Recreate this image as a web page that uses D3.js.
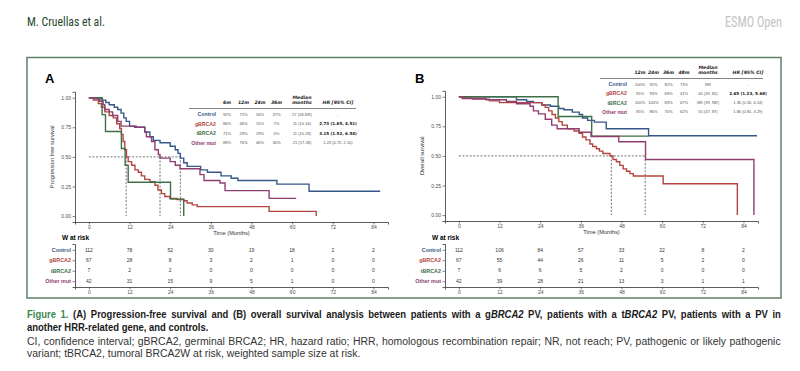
<!DOCTYPE html>
<html lang="en">
<head>
<meta charset="UTF-8">
<title>Figure 1 - survival by BRCA2 status</title>
<script src="https://cdn.jsdelivr.net/npm/d3@7"></script>
<style>
    body { margin: 0; background: #fff; }
    svg text { font-family: "Liberation Sans", Arial, sans-serif; }
</style>
</head>
<body>
<div id="figure"></div>
<script>
    // groups and colours
    const groups = ['Control', 'gBRCA2', 'tBRCA2', 'Other mut']
    const colors = ['#36578a', '#b4463f', '#3f6f48', '#8f3e72']
    const months = [0, 12, 24, 36, 48, 60, 72, 84]

    // (A) progression free survival, [months, survival] step points
    const pfsControl = [[0, 1], [2.5, 0.99], [4, 0.98], [5, 0.96], [6, 0.94], [7.5, 0.92], [8.5, 0.90], [9.5, 0.87], [10.3, 0.83], [11, 0.80], [12, 0.76], [13.5, 0.75], [16.5, 0.71], [18, 0.67], [19, 0.64], [21, 0.62], [24, 0.59], [25.5, 0.56], [26.3, 0.53], [27, 0.49], [28, 0.45], [29, 0.42], [33, 0.39], [35, 0.37], [39, 0.34], [42, 0.32], [44, 0.30], [55.5, 0.27], [65, 0.21], [86, 0.21]]
    const pfsGerm = [[0, 1], [1.3, 0.98], [2.8, 0.95], [3.7, 0.92], [4.7, 0.88], [6, 0.85], [7.2, 0.83], [8.2, 0.78], [9.1, 0.74], [9.6, 0.69], [10.1, 0.63], [10.6, 0.56], [11.1, 0.50], [11.6, 0.46], [12.6, 0.43], [13.6, 0.39], [14.6, 0.37], [15.5, 0.34], [16.5, 0.31], [18, 0.29], [19.5, 0.26], [20.4, 0.22], [21.4, 0.19], [22.4, 0.165], [23.9, 0.15], [26, 0.14], [28, 0.13], [29, 0.11], [30.5, 0.095], [32, 0.08], [53.2, 0.04], [67.1, 0.04], [67.1, 0]]
    const pfsTum = [[0, 1], [3.9, 0.857], [4.9, 0.714], [9.6, 0.571], [10.7, 0.429], [11.6, 0.286], [24.1, 0.143], [28, 0.143], [28, 0]]
    const pfsOther = [[0, 1], [1.8, 0.99], [3.2, 0.97], [4.2, 0.94], [4.7, 0.90], [6, 0.88], [7, 0.85], [8.5, 0.80], [9.5, 0.76], [14, 0.75], [16.5, 0.71], [17, 0.67], [18.5, 0.63], [19.5, 0.56], [20.5, 0.52], [21, 0.49], [24, 0.46], [25.5, 0.43], [26.9, 0.40], [32.8, 0.35], [34, 0.30], [38.7, 0.28], [40.2, 0.215], [53.2, 0.15], [61.2, 0.15]]
    const pfsMedians = [11, 21, 27]

    // (B) overall survival
    const osControl = [[0, 1], [17, 0.975], [20, 0.96], [22, 0.95], [24.5, 0.93], [27, 0.92], [29.5, 0.90], [31, 0.89], [33.5, 0.87], [35.5, 0.85], [36.5, 0.82], [38, 0.80], [40, 0.785], [43.5, 0.73], [56, 0.67], [88, 0.67]]
    const osGerm = [[0, 1], [1.5, 0.99], [4, 0.98], [9, 0.965], [12, 0.95], [24.5, 0.93], [25.5, 0.91], [26.5, 0.88], [27.5, 0.85], [28.5, 0.82], [29.5, 0.79], [30.5, 0.76], [32, 0.73], [34, 0.71], [35.5, 0.69], [36.5, 0.66], [37.5, 0.635], [38.7, 0.60], [39.5, 0.58], [40.6, 0.56], [41.5, 0.54], [42.5, 0.52], [44.6, 0.50], [45.5, 0.47], [46.5, 0.45], [47.5, 0.42], [48.5, 0.39], [49.5, 0.37], [50.5, 0.35], [51.5, 0.33], [60.3, 0.265], [82.2, 0.265], [82.2, 0]]
    const osTum = [[0, 1], [29.3, 0.833], [39.2, 0.667], [56, 0.667]]
    const osOther = [[0, 1], [1, 0.985], [8, 0.975], [14, 0.96], [17, 0.94], [21, 0.92], [22, 0.88], [23.5, 0.855], [25.5, 0.81], [27.4, 0.76], [29, 0.73], [35.5, 0.70], [39, 0.664], [47.2, 0.62], [55.1, 0.47], [87.1, 0.47], [87.1, 0]]
    const osMedians = [45, 55]

    // weighted numbers at risk
    const pfsRisk = [[112, 78, 52, 30, 19, 18, 2, 2], [67, 28, 8, 3, 2, 1, 0, 0], [7, 2, 2, 0, 0, 0, 0, 0], [42, 31, 15, 9, 5, 1, 0, 0]]
    const osRisk = [[112, 106, 84, 57, 33, 22, 8, 2], [67, 55, 44, 26, 11, 5, 2, 0], [7, 6, 6, 5, 2, 0, 0, 0], [42, 39, 28, 21, 13, 3, 1, 1]]

    // inset tables
    const pfsCols = ['6m', '12m', '24m', '36m']
    const pfsRates = [['92%', '72%', '56%', '37%'], ['86%', '46%', '15%', '7%'], ['71%', '29%', '29%', '0%'], ['88%', '76%', '46%', '30%']]
    const pfsMedianText = ['27 (18-NR)', '11 (10-16)', '11 (10-28)', '21 (17-38)']
    const pfsHr = ['-', '2.73 (1.65, 4.51)', '3.15 (1.52, 6.54)', '1.23 (0.72, 2.10)']
    const pfsHrBold = [false, true, true, false]

    const osCols = ['12m', '24m', '36m', '48m']
    const osRates = [['100%', '92%', '82%', '73%'], ['95%', '93%', '69%', '41%'], ['100%', '100%', '83%', '67%'], ['95%', '86%', '70%', '62%']]
    const osMedianText = ['NR', '45 (39, 82)', 'NR (39, NR)', '55 (47, 87)']
    const osHr = ['-', '2.65 (1.23, 5.68)', '1.36 (0.30, 6.24)', '1.86 (0.81, 4.29)']
    const osHrBold = [false, true, false, false]

    const wideFont = '"DejaVu Sans", Verdana, sans-serif'
    const narrowFont = '"Liberation Sans Narrow", "Roboto Condensed", "DejaVu Sans Condensed", sans-serif'

    var svg = d3.select('#figure')
        .append('svg')
        .attr('width', 800)
        .attr('height', 371)

    // page header
    svg.append('text')
        .attr('x', 27).attr('y', 26)
        .attr('textLength', 78).attr('lengthAdjust', 'spacingAndGlyphs')
        .style('font-family', narrowFont).style('font-size', '12px')
        .style('fill', '#1f4a2c')
        .text('M. Cruellas et al.')

    svg.append('text')
        .attr('x', 725).attr('y', 27)
        .attr('textLength', 57).attr('lengthAdjust', 'spacingAndGlyphs')
        .style('font-family', narrowFont).style('font-size', '14.5px')
        .style('fill', '#c4c4c4')
        .text('ESMO Open')

    svg.append('rect')
        .attr('x', 27).attr('y', 57.5)
        .attr('width', 754).attr('height', 240.5)
        .style('fill', 'none')
        .style('stroke', '#5f806a')
        .style('stroke-width', 1.5)

    function drawPanel(p) {
        const g = svg.append('g').attr('transform', `translate(${p.dx}, 0)`)
        const x = d3.scaleLinear().domain([-4.1, 88.3]).range([75, 388])
        const y = d3.scaleLinear().domain([-0.05, 1.05]).range([p.axisY, p.axisY - 130.2])

        g.append('text')
            .attr('x', 45).attr('y', 83)
            .style('font-size', '13px').style('font-weight', 'bold')
            .text(p.letter)

        const xAxis = d3.axisBottom(x).tickValues(months).tickSize(2.5).tickPadding(1)
        const yAxis = d3.axisLeft(y).tickValues([0, 0.25, 0.5, 0.75, 1]).tickFormat(d3.format('.2f')).tickSize(2.5).tickPadding(1.5)

        const gx = g.append('g').attr('transform', `translate(0, ${p.axisY})`).call(xAxis)
        const gy = g.append('g').attr('transform', 'translate(75, 0)').call(yAxis)
        for (const a of [gx, gy]) {
            a.select('.domain').style('stroke', '#333').style('stroke-width', 0.8)
            a.selectAll('.tick line').style('stroke', '#333').style('stroke-width', 0.6)
            a.selectAll('.tick text').style('font-size', '5px').style('fill', '#4d4d4d')
        }

        g.append('text')
            .attr('x', 231.5).attr('y', p.axisY + 13)
            .attr('text-anchor', 'middle')
            .style('font-size', '5.7px').style('fill', '#333')
            .text('Time (Months)')

        g.append('text')
            .attr('transform', `translate(53.5, ${y(0.5)}) rotate(-90)`)
            .attr('text-anchor', 'middle')
            .style('font-size', '5.7px').style('fill', '#333')
            .text(p.yTitle)

        // median guide lines
        g.append('line')
            .attr('x1', x(0)).attr('x2', x(d3.max(p.medians)))
            .attr('y1', y(0.5)).attr('y2', y(0.5))
            .style('stroke', '#333').style('stroke-width', 0.7).style('stroke-dasharray', '2,1.6')
        g.selectAll('.median')
            .data(p.medians)
            .enter()
            .append('line')
            .attr('x1', d => x(d)).attr('x2', d => x(d))
            .attr('y1', y(0.5)).attr('y2', y(0))
            .style('stroke', '#333').style('stroke-width', 0.7).style('stroke-dasharray', '2,1.6')

        const line = d3.line().x(d => x(d[0])).y(d => y(d[1])).curve(d3.curveStepAfter)
        g.selectAll('.km')
            .data(p.curves)
            .enter()
            .append('path')
            .attr('d', d => line(d))
            .style('fill', 'none')
            .style('stroke', (d, i) => colors[i])
            .style('stroke-width', 1.4)

        // risk table
        g.append('text')
            .attr('x', 62).attr('y', 239.5)
            .style('font-size', '6.5px').style('font-weight', 'bold')
            .text('W at risk')

        const ry = d3.scalePoint().domain(groups).range([244, 287]).padding(0.55)
        const riskX = d3.axisBottom(x).tickValues(months).tickSize(2.5).tickPadding(1)
        const riskY = d3.axisLeft(ry).tickSize(2.5).tickPadding(1.5)
        const rx = g.append('g').attr('transform', 'translate(0, 287)').call(riskX)
        const rg = g.append('g').attr('transform', 'translate(75, 0)').call(riskY)
        for (const a of [rx, rg]) {
            a.select('.domain').style('stroke', '#333').style('stroke-width', 0.8)
            a.selectAll('.tick line').style('stroke', '#333').style('stroke-width', 0.6)
            a.selectAll('.tick text').style('font-size', '5px').style('fill', '#4d4d4d')
        }
        rg.selectAll('.tick text')
            .style('font-weight', 'bold').style('font-size', '5.4px')
            .style('fill', (d, i) => colors[i])

        p.risk.forEach((row, i) => {
            g.selectAll('.risk' + i)
                .data(row)
                .enter()
                .append('text')
                .attr('x', (d, j) => x(months[j]))
                .attr('y', ry(groups[i]))
                .attr('dy', '0.35em')
                .attr('text-anchor', 'middle')
                .style('font-size', '5px').style('fill', '#333')
                .text(d => d)
        })
    }

    function drawTable(t) {
        const tg = svg.append('g')
        const rowY = (i) => t.lineY + 6 + i * t.step

        tg.append('line')
            .attr('x1', t.x1).attr('x2', t.x2)
            .attr('y1', t.lineY).attr('y2', t.lineY)
            .style('stroke', '#333').style('stroke-width', 0.6)

        const head = t.cols.map((c, j) => [c, t.colX[j]]).concat([['months', t.medX], ['HR [95% CI]', t.hrX]])
        tg.selectAll('.head')
            .data(head)
            .enter()
            .append('text')
            .attr('x', d => d[1])
            .attr('y', t.lineY - 4.2)
            .attr('text-anchor', 'middle')
            .style('font-family', wideFont).style('font-size', '4.6px')
            .style('font-weight', 'bold').style('font-style', 'italic').style('fill', '#222')
            .text(d => d[0])
        tg.append('text')
            .attr('x', t.medX).attr('y', t.lineY - 9.6)
            .attr('text-anchor', 'middle')
            .style('font-family', wideFont).style('font-size', '4.6px')
            .style('font-weight', 'bold').style('font-style', 'italic').style('fill', '#222')
            .text('Median')

        groups.forEach((grp, i) => {
            const yy = rowY(i)
            tg.append('text')
                .attr('x', t.labelX).attr('y', yy).attr('dy', '0.35em')
                .attr('text-anchor', 'end')
                .style('font-size', '5.2px').style('font-weight', 'bold')
                .style('fill', colors[i])
                .text(grp)
            tg.selectAll('.rate' + i)
                .data(t.rates[i])
                .enter()
                .append('text')
                .attr('x', (d, j) => t.colX[j]).attr('y', yy).attr('dy', '0.35em')
                .attr('text-anchor', 'middle')
                .style('font-size', '4.1px').style('fill', '#555')
                .text(d => d)
            tg.append('text')
                .attr('x', t.medX).attr('y', yy).attr('dy', '0.35em')
                .attr('text-anchor', 'middle')
                .style('font-size', '4px').style('fill', '#555')
                .text(t.medians[i])
            tg.append('text')
                .attr('x', t.hrX).attr('y', yy).attr('dy', '0.35em')
                .attr('text-anchor', 'middle')
                .style('font-family', t.hrBold[i] ? wideFont : null)
                .style('font-size', '4px')
                .style('font-weight', t.hrBold[i] ? 'bold' : 'normal')
                .style('fill', t.hrBold[i] ? '#111' : '#555')
                .text(t.hr[i])
        })
    }

    drawPanel({
        dx: 0, letter: 'A', axisY: 222, yTitle: 'Progression free survival',
        curves: [pfsControl, pfsGerm, pfsTum, pfsOther], medians: pfsMedians, risk: pfsRisk
    })
    drawPanel({
        dx: 370, letter: 'B', axisY: 221, yTitle: 'Overall survival',
        curves: [osControl, osGerm, osTum, osOther], medians: osMedians, risk: osRisk
    })

    drawTable({
        x1: 189, x2: 356, lineY: 108.5, step: 9.4, labelX: 216,
        colX: [227, 243.5, 260, 276.5], medX: 302, hrX: 338,
        cols: pfsCols, rates: pfsRates, medians: pfsMedianText, hr: pfsHr, hrBold: pfsHrBold
    })
    drawTable({
        x1: 600, x2: 763, lineY: 78.5, step: 9.1, labelX: 627,
        colX: [640, 653.5, 668.5, 684], medX: 708, hrX: 748,
        cols: osCols, rates: osRates, medians: osMedianText, hr: osHr, hrBold: osHrBold
    })

    // caption: glyph scale per weight, full lines justified with a little word spacing
    const cap = svg.append('g').style('font-family', narrowFont).style('font-size', '11px')

    const l1 = cap.append('text')
        .style('font-weight', 'bold').style('fill', '#1a1a1a')
    l1.append('tspan').style('fill', '#3d8753').text('Figure 1. ')
    l1.append('tspan').text('(A) Progression-free survival and (B) overall survival analysis between patients with a g')
    l1.append('tspan').style('font-style', 'italic').text('BRCA2')
    l1.append('tspan').text(' PV, patients with a t')
    l1.append('tspan').style('font-style', 'italic').text('BRCA2')
    l1.append('tspan').text(' PV, patients with a PV in')

    const l2 = cap.append('text')
        .style('font-weight', 'bold').style('fill', '#1a1a1a')
        .text('another HRR-related gene, and controls.')

    const l3 = cap.append('text')
        .style('fill', '#333')
        .text('CI, confidence interval; gBRCA2, germinal BRCA2; HR, hazard ratio; HRR, homologous recombination repair; NR, not reach; PV, pathogenic or likely pathogenic')

    const l4 = cap.append('text')
        .style('fill', '#333')
        .text('variant; tBRCA2, tumoral BRCA2W at risk, weighted sample size at risk.')

    function setLine(sel, y, sx) {
        sel.attr('transform', `translate(27, ${y}) scale(${sx}, 1)`)
    }
    function justify(sel, y, sx, width) {
        const spaces = sel.text().split(' ').length - 1
        const extra = width / sx - sel.node().getComputedTextLength()
        sel.style('word-spacing', (extra / spaces) + 'px')
        setLine(sel, y, sx)
    }

    const spaces1 = l1.text().split(' ').length - 1
    const sBold = Math.min(1, (755 - spaces1 * 2) / l1.node().getComputedTextLength())
    const sReg = Math.min(1, 334 / l4.node().getComputedTextLength())
    setLine(l2, 330.5, sBold)
    setLine(l4, 357, sReg)
    justify(l1, 318, sBold, 755)
    justify(l3, 344.5, sReg, 755)
</script>
</body>
</html>
